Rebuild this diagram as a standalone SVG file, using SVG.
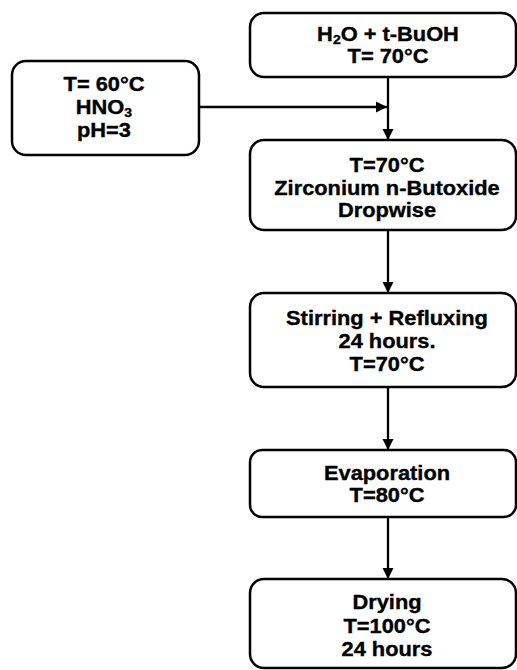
<svg xmlns="http://www.w3.org/2000/svg" width="517" height="670" viewBox="0 0 517 670">
<defs>
<style>
.box{fill:#fff;stroke:#000;stroke-width:2.5}
.lbl{font-family:"Liberation Sans",Arial,sans-serif;font-weight:bold;font-size:19.5px;fill:#000;stroke:#000;stroke-width:0.35;text-anchor:middle}
.sub{font-size:12.5px}
.conn{stroke:#000;stroke-width:2.3;fill:none;marker-end:url(#ah)}
</style>
<marker id="ah" viewBox="0 0 10 10" refX="10" refY="5" markerUnits="userSpaceOnUse" markerWidth="11" markerHeight="12" orient="auto">
<path d="M0,0 L10,5 L0,10 z" fill="#000"/>
</marker>
</defs>
<rect width="517" height="670" fill="#fff"/>
<g id="connectors">
<line class="conn" x1="388" y1="77" x2="388" y2="140"/>
<line class="conn" x1="199" y1="107" x2="387" y2="107"/>
<line class="conn" x1="388" y1="230" x2="388" y2="293"/>
<line class="conn" x1="388" y1="387" x2="388" y2="450"/>
<line class="conn" x1="388" y1="517" x2="388" y2="579"/>
</g>
<g id="n-water">
<rect class="box" x="250" y="13" width="266" height="64" rx="14"/>
<g transform="translate(388,0) scale(1.12,1)">
<text class="lbl" x="0" y="41">H<tspan class="sub" dy="3">2</tspan><tspan dy="-3">O + t-BuOH</tspan></text>
<text class="lbl" x="0" y="63">T= 70°C</text>
</g>
</g>
<g id="n-acid">
<rect class="box" x="12" y="61" width="187" height="94" rx="14"/>
<g transform="translate(104,0) scale(1.12,1)">
<text class="lbl" x="0" y="91">T= 60°C</text>
<text class="lbl" x="0" y="114">HNO<tspan class="sub" dy="3">3</tspan></text>
<text class="lbl" x="0" y="137">pH=3</text>
</g>
</g>
<g id="n-zr">
<rect class="box" x="250" y="140" width="266" height="90" rx="14"/>
<g transform="translate(387,0) scale(1.12,1)">
<text class="lbl" x="0" y="172">T=70°C</text>
<text class="lbl" x="0" y="195">Zirconium n-Butoxide</text>
<text class="lbl" x="0" y="217">Dropwise</text>
</g>
</g>
<g id="n-stir">
<rect class="box" x="250" y="293" width="266" height="94" rx="14"/>
<g transform="translate(387,0) scale(1.12,1)">
<text class="lbl" x="0" y="325">Stirring + Refluxing</text>
<text class="lbl" x="0" y="348">24 hours.</text>
<text class="lbl" x="0" y="371">T=70°C</text>
</g>
</g>
<g id="n-evap">
<rect class="box" x="250" y="450" width="266" height="67" rx="12"/>
<g transform="translate(387,0) scale(1.12,1)">
<text class="lbl" x="0" y="480">Evaporation</text>
<text class="lbl" x="0" y="502">T=80°C</text>
</g>
</g>
<g id="n-dry">
<rect class="box" x="250" y="579" width="266" height="89" rx="14"/>
<g transform="translate(387,0) scale(1.12,1)">
<text class="lbl" x="0" y="609">Drying</text>
<text class="lbl" x="0" y="633">T=100°C</text>
<text class="lbl" x="0" y="656">24 hours</text>
</g>
</g>
</svg>
